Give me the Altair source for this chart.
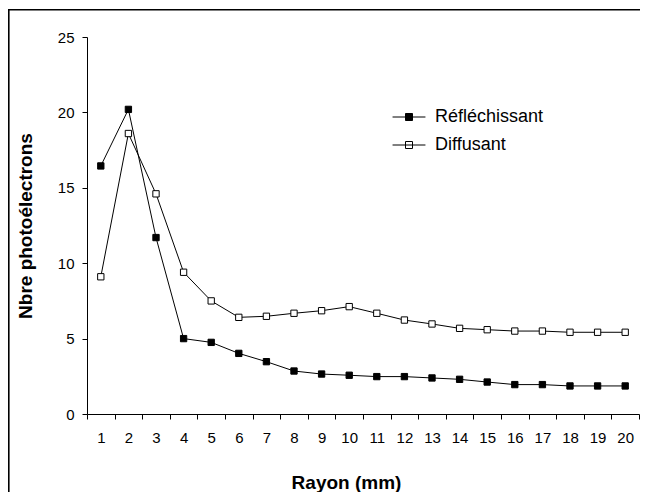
import altair as alt
import pandas as pd

rayon = list(range(1, 21))
reflechissant = [16.45, 20.2, 11.7, 5.0, 4.75, 4.02, 3.47, 2.85, 2.65, 2.57,
                 2.48, 2.48, 2.39, 2.3, 2.12, 1.95, 1.95, 1.86, 1.86, 1.86]
diffusant = [9.1, 18.6, 14.6, 9.4, 7.5, 6.41, 6.48, 6.68, 6.85, 7.12,
             6.68, 6.23, 5.97, 5.68, 5.59, 5.5, 5.5, 5.42, 5.42, 5.42]
series_names = ["Réfléchissant", "Diffusant"]
y_ticks = [0, 5, 10, 15, 20, 25]

df = pd.DataFrame({
    "Rayon": rayon * 2,
    "Valeur": reflechissant + diffusant,
    "Série": [series_names[0]] * len(rayon) + [series_names[1]] * len(rayon),
})

FONT = "Liberation Sans"

x_enc = alt.X(
    "Rayon:O",
    scale=alt.Scale(type="band", paddingInner=0, paddingOuter=0),
    axis=alt.Axis(
        title="Rayon (mm)", labelAngle=0, tickBand="extent", tickSize=5,
        labelPadding=11, titlePadding=28, titleX=259, grid=False,
        domainColor="black", tickColor="black", labelColor="black",
        labelFont=FONT, labelFontSize=15, titleFont=FONT, titleFontSize=19,
        titleFontWeight="bold", titleColor="black",
    ),
)
y_enc = alt.Y(
    "Valeur:Q",
    scale=alt.Scale(domain=[0, 25], nice=False),
    axis=alt.Axis(
        title="Nbre photoélectrons", values=y_ticks, tickSize=5, labelPadding=8,
        titlePadding=22, grid=False,
        domainColor="black", tickColor="black", labelColor="black",
        labelFont=FONT, labelFontSize=15, titleFont=FONT, titleFontSize=19,
        titleFontWeight="bold", titleColor="black",
    ),
)

base = alt.Chart(df)

lines = base.mark_line(color="black", strokeWidth=1).encode(
    x=x_enc, y=y_enc, detail="Série:N"
)

legend_path = "M-4.7,0L4.7,0M-1,-1L1,-1L1,1L-1,1Z"
points = base.mark_point(
    shape="square", size=40, filled=True, stroke="black", strokeWidth=1, opacity=1
).encode(
    x=x_enc,
    y=y_enc,
    fill=alt.Fill(
        "Série:N",
        scale=alt.Scale(domain=series_names, range=["black", "white"]),
        legend=alt.Legend(
            title=None, orient="none", legendX=313, legendY=71,
            symbolType=legend_path, symbolSize=49, symbolStrokeColor="black",
            symbolStrokeWidth=1, symbolOpacity=1, labelOffset=17,
            labelFont=FONT, labelFontSize=18, labelColor="black",
            rowPadding=10, padding=0,
        ),
    ),
)

frame_src = alt.Chart(pd.DataFrame({"f": [0]}))
frame_top = frame_src.mark_rect(color="black", strokeWidth=0).encode(
    x=alt.value(-79), x2=alt.value(560), y=alt.value(-28), y2=alt.value(-26.4)
)
frame_left = frame_src.mark_rect(color="black", strokeWidth=0).encode(
    x=alt.value(-79), x2=alt.value(-77.4), y=alt.value(-28), y2=alt.value(470)
)

chart = alt.layer(frame_top, frame_left, lines, points).properties(
    width=552, height=377,
    autosize=alt.AutoSizeParams(type="none"),
    padding={"left": 79, "top": 29, "right": 1, "bottom": 78},
).configure_view(stroke=None)

chart.save("out.html", embed_options={"renderer": "svg", "actions": False})
